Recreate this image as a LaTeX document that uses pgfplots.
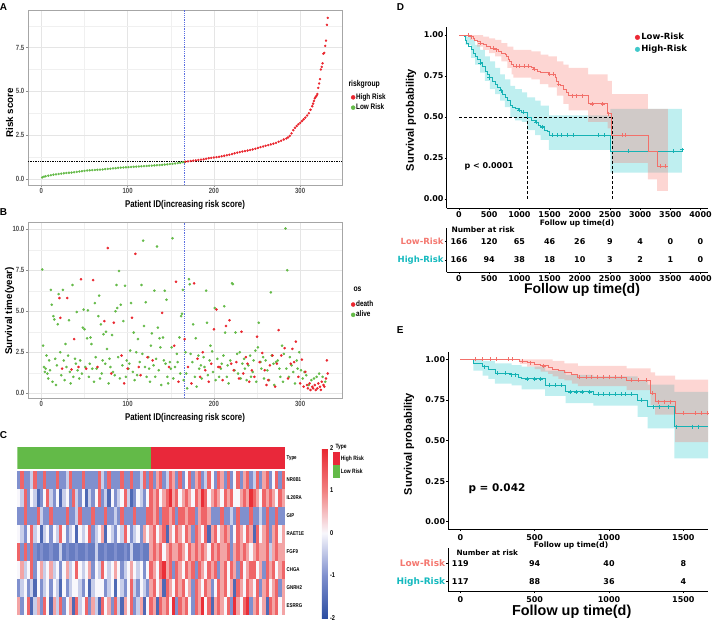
\documentclass[border=0pt]{standalone}
\usepackage{pgfplots}
\pgfplotsset{compat=1.18}
\usepackage{fontspec}
\setmainfont{Liberation Sans}
\newfontfamily\nar{Liberation Sans}[FakeStretch=0.8]
\newfontfamily\dv{DejaVu Sans}
\definecolor{rr}{RGB}{233,38,46}
\definecolor{gg}{RGB}{100,186,72}
\definecolor{vblue}{RGB}{90,110,225}
\definecolor{kmr}{RGB}{242,112,106}
\definecolor{kmc}{RGB}{22,178,180}
\definecolor{kmrf}{RGB}{248,118,109}
\definecolor{kmcf}{RGB}{0,191,196}
\definecolor{lowdot}{RGB}{236,40,52}
\definecolor{highdot}{RGB}{64,200,202}
\definecolor{lowlab}{RGB}{244,120,112}
\definecolor{highlab}{RGB}{20,185,190}
\definecolor{tred}{RGB}{233,40,58}
\definecolor{tgreen}{RGB}{99,186,72}
\pgfdeclareplotmark{cell}{\pgfpathrectangle{\pgfpoint{-1.75pt}{-9.1pt}}{\pgfpoint{3.5pt}{18.2pt}}\pgfusepathqfill}
\pgfplotsset{
  ggaxis/.style={scale only axis, axis line style={black!35}, tick style={black!45,line width=0.4pt},
    tick align=outside, major tick length=2pt, minor tick length=0pt, tick pos=left,
    grid=both, major grid style={black!10,line width=0.5pt}, minor grid style={black!6,line width=0.3pt},
    ticklabel style={font=\nar\bfseries\fontsize{7.5}{8}\selectfont, text=black!70, inner sep=1.5pt},
    /pgf/number format/assume math mode=true,
    xmin=-15.5, xmax=348.5, xtick={0,100,200,300}, minor xtick={50,150,250},
    legend style={draw=none, fill=none, font=\nar\bfseries\fontsize{8}{9}\selectfont, anchor=north west, row sep=1pt, nodes={inner sep=1pt}},
    legend image code/.code={\draw[#1] plot coordinates {(2pt,0pt)};},
    legend cell align=left},
  kmaxis/.style={scale only axis, axis x line*=bottom, axis y line*=left,
    axis line style={black, line width=0.6pt,-}, tick style={black,line width=0.6pt},
    tick align=outside, major tick length=2pt, minor tick length=0pt,
    ticklabel style={font=\dv\bfseries\fontsize{8}{9}\selectfont, inner sep=1pt},
    /pgf/number format/assume math mode=true, /pgf/number format/set thousands separator={}, scaled ticks=false},
  hm/.style={scatter, only marks, mark=cell, point meta=explicit, scatter/use mapped color={fill=mapped color, draw=none}},
  tab/.style={only marks, mark=none, nodes near coords, point meta=explicit symbolic,
    nodes near coords style={anchor=center, font=\dv\bfseries\fontsize{8}{9}\selectfont}},
}
\begin{document}
\begin{tikzpicture}
\path[use as bounding box] (0,0) rectangle (712pt,-623pt);
% ---------------- A ----------------
\begin{axis}[ggaxis, at={(28pt,-185pt)}, anchor=south west, width=314pt, height=175pt,
  ymin=-0.35, ymax=9.65, ytick={0,2.5,5,7.5}, yticklabels={0.0,2.5,5.0,7.5}, minor ytick={1.25,3.75,6.25,8.75},
  legend style={at={(1.019,0.54)}}]
\addlegendimage{only marks, mark=*, mark size=2pt, color=rr}\addlegendentry{High Risk}
\addlegendimage{only marks, mark=*, mark size=2pt, color=gg}\addlegendentry{Low Risk}
\addplot[forget plot, densely dotted, black, line width=0.7pt] coordinates {(-15.5,0.98) (348.5,0.98)};
\addplot[forget plot, densely dotted, vblue, line width=0.8pt] coordinates {(166,-0.35) (166,9.65)};
\addplot[forget plot, only marks, mark=*, mark size=1pt, color=gg] coordinates {
(1,0.08) (3,0.13) (5,0.15) (8,0.18) (11,0.21) (14,0.24) (17,0.26) (20,0.28) (23,0.30) (26,0.32) (29,0.34) (32,0.35) (35,0.36) (38,0.38) (41,0.40) (44,0.42) (47,0.44) (50,0.46) (53,0.48) (56,0.49) (59,0.50) (62,0.51) (65,0.52) (68,0.53) (71,0.54) (74,0.56) (77,0.57) (80,0.58) (83,0.60) (86,0.61) (89,0.63) (92,0.64) (95,0.65) (98,0.66) (101,0.67) (104,0.68) (107,0.69) (110,0.70) (113,0.71) (116,0.72) (119,0.73) (122,0.74) (125,0.75) (128,0.76) (131,0.77) (134,0.78) (137,0.79) (140,0.80) (143,0.82) (146,0.83) (149,0.85) (152,0.86) (155,0.88) (158,0.90) (161,0.92) (164,0.95) (166,0.97)};
\addplot[forget plot, only marks, mark=*, mark size=1pt, color=rr] coordinates {
(167,0.98) (170,1.0) (173,1.02) (176,1.04) (179,1.06) (182,1.08) (185,1.10) (188,1.12) (191,1.15) (194,1.18) (197,1.20) (200,1.22) (203,1.24) (206,1.26) (209,1.29) (212,1.32) (215,1.35) (218,1.38) (221,1.42) (224,1.46) (227,1.50) (230,1.53) (233,1.56) (236,1.59) (239,1.62) (242,1.65) (245,1.68) (248,1.72) (251,1.77) (254,1.81) (257,1.85) (260,1.89) (263,1.93) (266,1.97) (269,2.01) (272,2.06) (275,2.12) (278,2.18) (281,2.25) (284,2.31) (286,2.37) (288,2.46) (290,2.60) (292,2.78) (294,2.92) (296,3.02) (298,3.12) (300,3.20) (302,3.30) (304,3.40) (306,3.50) (308,3.62) (310,3.75) (312,3.95) (314,4.15) (315,4.3) (316,4.45) (317,4.6) (318,4.68) (319,4.75) (320,4.85) (321,5.2) (322,5.45) (323,5.7) (324,6.25) (325,6.4) (326,6.6) (327,7.15) (328,7.2) (329,7.6) (330,7.9) (331,8.8) (332,9.2)};
\end{axis}
\node[font=\bfseries\fontsize{10}{12}\selectfont] at (3.5pt,-7pt) {A};
\node[anchor=west, font=\nar\bfseries\fontsize{8.5}{9}\selectfont] at (345pt,-84pt) {riskgroup};
\node[rotate=90, font=\bfseries\fontsize{9.8}{11}\selectfont] at (9.7pt,-113pt) {Risk score};
\node[font=\nar\bfseries\fontsize{9.8}{11}\selectfont] at (185pt,-205pt) {Patient ID(increasing risk score)};
% ---------------- B ----------------
\begin{axis}[ggaxis, at={(28pt,-398pt)}, anchor=south west, width=314pt, height=176pt,
  ymin=-0.29, ymax=10.44, ytick={0,2.5,5,7.5,10}, yticklabels={0.0,2.5,5.0,7.5,10.0}, minor ytick={1.25,3.75,6.25,8.75},
  legend style={at={(1.019,0.57)}}]
\addlegendimage{only marks, mark=*, mark size=2pt, color=rr}\addlegendentry{death}
\addlegendimage{only marks, mark=*, mark size=2pt, color=gg}\addlegendentry{alive}
\addplot[forget plot, densely dotted, vblue, line width=0.8pt] coordinates {(166,-0.29) (166,10.44)};
\addplot[forget plot, only marks, mark=*, mark size=1.1pt, color=gg] coordinates {
(1,7.55) (2,2.9) (3,1.6) (4,1.3) (5,1.5) (6,2.3) (7,1.2) (8,0.9) (9,2.0) (10,1.4) (11,6.3) (12,5.4) (13,0.7) (14,4.7) (15,4.5) (16,2.1) (17,0.5) (18,1.7) (19,4.2) (20,6.05) (22,2.5) (23,1.1) (25,6.3) (26,2.0) (27,0.8) (28,3.0) (29,1.6) (31,2.3) (32,4.45) (33,1.3) (34,0.6) (36,6.6) (37,1.0) (39,2.1) (40,1.8) (41,4.95) (42,1.4) (44,0.9) (45,2.0) (47,1.2) (48,4.0) (49,5.1) (50,3.9) (51,1.6) (53,3.35) (54,5.05) (55,1.0) (56,1.8) (57,3.4) (58,3.0) (59,1.5) (61,0.7) (62,5.5) (63,2.2) (64,1.5) (66,4.7) (67,5.95) (68,0.9) (69,4.2) (70,1.2) (71,2.0) (72,3.6) (74,1.8) (75,3.75) (76,2.7) (78,0.6) (79,2.1) (80,1.6) (82,3.55) (83,1.3) (85,1.1) (86,5.0) (87,6.6) (88,5.2) (89,2.2) (90,7.45) (91,0.9) (92,5.4) (94,1.7) (95,4.4) (97,6.55) (98,1.0) (99,2.0) (101,1.5) (102,1.8) (103,2.6) (104,5.5) (106,1.3) (107,3.7) (108,0.8) (110,2.5) (111,1.1) (112,3.3) (114,1.9) (116,6.6) (117,2.4) (118,9.3) (119,4.1) (120,1.6) (121,5.55) (122,1.0) (124,2.2) (125,1.5) (126,0.7) (127,2.9) (128,3.65) (130,1.7) (131,6.25) (132,1.0) (133,2.1) (134,8.95) (135,4.0) (136,1.4) (137,3.35) (138,2.8) (139,0.5) (141,3.4) (142,2.0) (143,6.25) (144,1.8) (145,5.7) (146,1.0) (147,0.6) (149,1.9) (150,1.5) (151,2.8) (152,9.45) (153,0.9) (155,1.6) (157,2.4) (158,1.9) (160,3.4) (161,1.2) (162,4.7) (163,4.85) (164,6.3) (165,0.8)
(167,2.5) (168,1.2) (169,0.3) (171,6.95) (172,6.65) (173,2.4) (175,1.9) (176,4.2) (178,1.0) (179,3.35) (180,0.4) (182,2.3) (183,1.5) (185,1.7) (186,0.9) (188,2.2) (189,1.6) (191,6.25) (192,4.3) (193,1.1) (195,2.0) (196,2.9) (198,2.55) (199,1.3) (201,5.2) (202,0.8) (204,2.1) (206,1.0) (208,1.5) (209,1.8) (211,2.3) (212,5.3) (213,3.7) (215,1.0) (216,1.7) (217,0.6) (219,2.0) (221,6.7) (222,6.65) (224,1.4) (225,3.7) (227,2.4) (228,1.2) (230,2.5) (231,0.9) (233,1.8) (235,2.1) (236,1.5) (238,0.8) (240,1.7) (242,2.3) (243,1.0) (245,1.3) (246,2.0) (248,2.6) (249,0.7) (251,2.8) (252,4.3) (254,1.9) (255,1.5) (257,2.2) (258,0.9) (260,2.0) (262,1.4) (264,0.8) (266,6.15) (267,2.3) (269,1.8) (270,0.5) (272,1.9) (274,2.0) (276,1.5) (277,1.0) (279,2.9) (280,0.7) (281,2.4) (283,10.05) (284,1.5) (285,7.5) (287,1.0) (288,2.2) (290,1.7) (292,1.3) (294,0.6) (296,2.0) (297,1.5) (299,2.5) (301,1.4) (303,0.9) (305,1.3) (307,1.1) (310,0.5) (313,0.8) (316,0.9) (319,1.0) (322,1.2) (326,1.0) (329,0.7)};
\addplot[forget plot, only marks, mark=*, mark size=1.1pt, color=rr] coordinates {
(21,5.8) (22,4.6) (24,1.5) (30,5.8) (35,1.45) (38,3.3) (43,1.6) (46,6.95) (52,1.5) (60,6.9) (65,1.6) (73,4.4) (77,8.85) (81,1.2) (84,4.3) (93,2.3) (96,0.6) (100,1.5) (105,4.6) (109,8.5) (113,1.6) (115,1.1) (123,2.2) (129,2.0) (140,4.9) (148,1.6) (154,2.9) (156,6.8) (159,0.7) (166,3.3)
(170,1.6) (174,0.6) (177,6.7) (181,2.1) (184,1.0) (187,2.5) (190,1.4) (194,0.7) (197,1.8) (200,3.9) (203,5.1) (205,1.6) (207,1.6) (210,0.8) (214,4.1) (218,4.45) (220,1.8) (223,1.4) (226,1.9) (229,0.9) (232,3.75) (234,1.2) (237,2.2) (239,1.8) (241,0.7) (244,1.4) (247,1.0) (250,3.45) (253,1.9) (256,2.45) (259,1.4) (261,0.5) (263,0.8) (265,1.7) (268,2.3) (271,0.4) (273,1.8) (275,3.85) (278,2.3) (282,2.75) (286,0.9) (289,1.8) (291,2.7) (293,1.9) (295,3.15) (298,1.0) (300,0.6) (302,2.05) (304,0.4) (306,1.3) (308,0.5) (309,0.3) (311,0.6) (312,0.2) (314,0.4) (315,0.3) (317,0.5) (318,0.2) (320,0.3) (321,0.6) (323,0.4) (324,0.2) (325,0.7) (327,0.5) (328,0.4) (330,0.9) (331,2.0) (332,1.2)};
\end{axis}
\node[font=\bfseries\fontsize{10}{12}\selectfont] at (3.5pt,-212.5pt) {B};
\node[anchor=west, font=\nar\bfseries\fontsize{8.5}{9}\selectfont] at (350pt,-289pt) {os};
\node[rotate=90, font=\bfseries\fontsize{9.8}{11}\selectfont] at (9.7pt,-311pt) {Survival time(year)};
\node[font=\nar\bfseries\fontsize{9.8}{11}\selectfont] at (185pt,-418pt) {Patient ID(increasing risk score)};
% ---------------- C ----------------
\begin{axis}[scale only axis, at={(17.3pt,-615pt)}, anchor=south west, width=267.7pt, height=168.3pt,
  xmin=-0.5, xmax=82.5, ymin=-0.5, ymax=8.85, axis line style={draw=none}, xtick=\empty,
  ytick={0,1,2,3,4,5,6,7,8.22}, yticklabels={ESRRG,GNRH2,CHGA,FGF9,RAET1E,GIP,IL20RA,NR0B1,Type},
  yticklabel pos=right, major tick length=0pt, yticklabel style={font=\nar\bfseries\fontsize{5.5}{6}\selectfont, inner sep=1.5pt},
  colormap={heat}{rgb255(0cm)=(44,78,162); rgb255(1cm)=(128,144,206); rgb255(2cm)=(248,247,252); rgb255(3cm)=(241,128,128); rgb255(4cm)=(233,38,48)},
  point meta min=-2, point meta max=2,
  colorbar, colorbar style={at={(parent axis.north east)}, anchor=north west, xshift=28.3pt, yshift=-1.3pt,
    scale only axis, width=6pt, height=170pt, ytick={-2,-1,0,1,2}, axis line style={draw=none}, major tick length=0pt,
    yticklabel style={font=\nar\bfseries\fontsize{7}{8}\selectfont, inner sep=2pt}, /pgf/number format/assume math mode=true},
  legend style={at={(1.179,0.9685)}, anchor=north west, draw=none, fill=none, font=\nar\bfseries\fontsize{6.2}{7}\selectfont, row sep=0pt, inner sep=0pt, nodes={inner sep=0.8pt}},
  legend image code/.code={\fill[#1] (0pt,-6.5pt) rectangle (7pt,6.5pt);}, legend cell align=left]
\addlegendimage{fill=tred, draw=none}\addlegendentry{High Risk}
\addlegendimage{fill=tgreen, draw=none}\addlegendentry{Low Risk}
\addplot[forget plot, fill=tgreen, draw=none] coordinates {(-0.5,7.59) (41,7.59) (41,8.85) (-0.5,8.85)};
\addplot[forget plot, fill=tred, draw=none] coordinates {(41,7.59) (82.5,7.59) (82.5,8.85) (41,8.85)};
% NR0B1
\addplot[forget plot, hm] coordinates {
(0,7)[-1] (1,7)[1.3] (2,7)[-1] (3,7)[-1] (4,7)[-0.4] (5,7)[1.3] (6,7)[-1] (7,7)[-1] (8,7)[1.3] (9,7)[-1]
(10,7)[-1] (11,7)[-1] (12,7)[1.3] (13,7)[-1] (14,7)[-1] (15,7)[-0.4] (16,7)[1.3] (17,7)[-1] (18,7)[-1] (19,7)[-1]
(20,7)[1.3] (21,7)[-1] (22,7)[-1] (23,7)[-1] (24,7)[-1] (25,7)[1.3] (26,7)[-0.4] (27,7)[-1] (28,7)[1.3] (29,7)[-1]
(30,7)[-1] (31,7)[-1] (32,7)[1.3] (33,7)[-1] (34,7)[-1] (35,7)[1.3] (36,7)[-1] (37,7)[-1] (38,7)[-0.4] (39,7)[1.3]
(40,7)[-1] (41,7)[1.3] (42,7)[-1] (43,7)[0.7] (44,7)[1.3] (45,7)[-1] (46,7)[-0.4] (47,7)[1.3] (48,7)[0.7] (49,7)[-1]
(50,7)[1.3] (51,7)[-1] (52,7)[0] (53,7)[1.3] (54,7)[-1] (55,7)[0.7] (56,7)[1.3] (57,7)[-1] (58,7)[-0.4] (59,7)[1.3]
(60,7)[0] (61,7)[-1] (62,7)[1.3] (63,7)[0.7] (64,7)[-1] (65,7)[1.3] (66,7)[-1] (67,7)[0] (68,7)[1.3] (69,7)[-1]
(70,7)[0.7] (71,7)[1.3] (72,7)[-1] (73,7)[-0.4] (74,7)[1.3] (75,7)[-1] (76,7)[0.7] (77,7)[1.3] (78,7)[-1] (79,7)[0]
(80,7)[1.3] (81,7)[-1] (82,7)[1.3]};
% IL20RA
\addplot[forget plot, hm] coordinates {
(0,6)[0] (1,6)[-0.4] (2,6)[1.3] (3,6)[-1] (4,6)[0] (5,6)[-0.4] (6,6)[-1.6] (7,6)[-1] (8,6)[0] (9,6)[1.3]
(10,6)[-0.4] (11,6)[-1] (12,6)[0] (13,6)[-1.6] (14,6)[-0.4] (15,6)[0] (16,6)[-1] (17,6)[1.3] (18,6)[-0.4] (19,6)[-1]
(20,6)[0] (21,6)[-1.6] (22,6)[-0.4] (23,6)[-1] (24,6)[0] (25,6)[1.3] (26,6)[-1] (27,6)[-0.4] (28,6)[-1.6] (29,6)[0]
(30,6)[-1] (31,6)[-0.4] (32,6)[0] (33,6)[1.3] (34,6)[-0.4] (35,6)[-1.6] (36,6)[-1] (37,6)[0] (38,6)[-0.4] (39,6)[-1]
(40,6)[0] (41,6)[1.3] (42,6)[0.7] (43,6)[1.3] (44,6)[0] (45,6)[0.7] (46,6)[1.3] (47,6)[1.9] (48,6)[0.7] (49,6)[1.3]
(50,6)[0] (51,6)[0.7] (52,6)[1.3] (53,6)[0.7] (54,6)[0] (55,6)[1.3] (56,6)[0.7] (57,6)[1.9] (58,6)[1.3] (59,6)[0]
(60,6)[0.7] (61,6)[1.3] (62,6)[0.7] (63,6)[0] (64,6)[1.3] (65,6)[0.7] (66,6)[1.3] (67,6)[0] (68,6)[0] (69,6)[0.7]
(70,6)[1.3] (71,6)[0.7] (72,6)[1.9] (73,6)[1.3] (74,6)[0.7] (75,6)[0] (76,6)[1.3] (77,6)[0.7] (78,6)[1.3] (79,6)[0.7]
(80,6)[0] (81,6)[1.3] (82,6)[0.7]};
% GIP
\addplot[forget plot, hm] coordinates {
(0,5)[-1] (1,5)[-1] (2,5)[1.3] (3,5)[-1] (4,5)[-1] (5,5)[-1] (6,5)[1.3] (7,5)[-0.4] (8,5)[-1] (9,5)[-1]
(10,5)[1.3] (11,5)[-1] (12,5)[-1] (13,5)[-1] (14,5)[-1] (15,5)[1.3] (16,5)[-1] (17,5)[-1] (18,5)[-0.4] (19,5)[1.3]
(20,5)[-1] (21,5)[-1] (22,5)[-1] (23,5)[1.3] (24,5)[-1] (25,5)[-1] (26,5)[-1] (27,5)[1.3] (28,5)[-1] (29,5)[-1]
(30,5)[-0.4] (31,5)[-1] (32,5)[1.3] (33,5)[-1] (34,5)[-1] (35,5)[-1] (36,5)[1.3] (37,5)[-1] (38,5)[-1] (39,5)[-1]
(40,5)[1.3] (41,5)[1.3] (42,5)[0.7] (43,5)[1.3] (44,5)[-1] (45,5)[1.3] (46,5)[1.3] (47,5)[0.7] (48,5)[1.3] (49,5)[-1]
(50,5)[1.3] (51,5)[1.3] (52,5)[0.7] (53,5)[1.3] (54,5)[1.3] (55,5)[-1] (56,5)[0.7] (57,5)[1.3] (58,5)[1.3] (59,5)[0.7]
(60,5)[-1] (61,5)[-1] (62,5)[-1] (63,5)[1.3] (64,5)[-1] (65,5)[-1] (66,5)[-0.4] (67,5)[-1] (68,5)[1.3] (69,5)[-1]
(70,5)[-1] (71,5)[-1] (72,5)[1.3] (73,5)[-1] (74,5)[-1] (75,5)[-0.4] (76,5)[-1] (77,5)[1.3] (78,5)[-1] (79,5)[-1]
(80,5)[1.3] (81,5)[-1] (82,5)[-1]};
% RAET1E
\addplot[forget plot, hm] coordinates {
(0,4)[0] (1,4)[-0.4] (2,4)[-1] (3,4)[0] (4,4)[1.3] (5,4)[-0.4] (6,4)[0] (7,4)[-1.6] (8,4)[-0.4] (9,4)[0]
(10,4)[-1] (11,4)[0] (12,4)[-0.4] (13,4)[1.3] (14,4)[0] (15,4)[-1] (16,4)[-0.4] (17,4)[0] (18,4)[-1.6] (19,4)[0]
(20,4)[-0.4] (21,4)[0] (22,4)[1.3] (23,4)[-1] (24,4)[-0.4] (25,4)[0] (26,4)[0.7] (27,4)[-1.6] (28,4)[0] (29,4)[-0.4]
(30,4)[-1] (31,4)[0] (32,4)[-0.4] (33,4)[1.3] (34,4)[0] (35,4)[-1] (36,4)[-0.4] (37,4)[0] (38,4)[-1] (39,4)[0.7]
(40,4)[0] (41,4)[0.7] (42,4)[1.3] (43,4)[0] (44,4)[0.7] (45,4)[1.3] (46,4)[-1.6] (47,4)[0.7] (48,4)[0] (49,4)[1.3]
(50,4)[0.7] (51,4)[0] (52,4)[1.3] (53,4)[0.7] (54,4)[-1] (55,4)[1.3] (56,4)[0.7] (57,4)[0] (58,4)[1.3] (59,4)[-1.6]
(60,4)[0.7] (61,4)[1.3] (62,4)[0] (63,4)[0.7] (64,4)[1.3] (65,4)[0.7] (66,4)[-1] (67,4)[0] (68,4)[1.3] (69,4)[0.7]
(70,4)[0] (71,4)[1.3] (72,4)[0.7] (73,4)[-1.6] (74,4)[1.3] (75,4)[0] (76,4)[0.7] (77,4)[1.3] (78,4)[-1] (79,4)[0.7]
(80,4)[1.3] (81,4)[0] (82,4)[0.7]};
% FGF9
\addplot[forget plot, hm] coordinates {
(0,3)[1.3] (1,3)[-1] (2,3)[1.3] (3,3)[-1] (4,3)[1.3] (5,3)[-1] (6,3)[-1.3] (7,3)[-1] (8,3)[-1.3] (9,3)[-1.3]
(10,3)[-1] (11,3)[-1.3] (12,3)[-1.3] (13,3)[-0.4] (14,3)[-1.3] (15,3)[-1] (16,3)[-1.3] (17,3)[-1.3] (18,3)[-1] (19,3)[-1.3]
(20,3)[-1.3] (21,3)[-1] (22,3)[-1.3] (23,3)[-1.3] (24,3)[-0.4] (25,3)[-1.3] (26,3)[-1.3] (27,3)[-1] (28,3)[-1.3] (29,3)[-1.3]
(30,3)[-1] (31,3)[-1.3] (32,3)[-1.3] (33,3)[-1] (34,3)[-1.3] (35,3)[-0.4] (36,3)[-1.3] (37,3)[-1.3] (38,3)[-1] (39,3)[-1.3]
(40,3)[-1.3] (41,3)[0.7] (42,3)[1.3] (43,3)[0.7] (44,3)[1.3] (45,3)[0] (46,3)[0.7] (47,3)[1.3] (48,3)[0.7] (49,3)[0.7]
(50,3)[1.3] (51,3)[0.7] (52,3)[0] (53,3)[1.3] (54,3)[0.7] (55,3)[1.3] (56,3)[0.7] (57,3)[1.3] (58,3)[0.7] (59,3)[0]
(60,3)[1.3] (61,3)[0.7] (62,3)[1.3] (63,3)[0.7] (64,3)[0.7] (65,3)[1.3] (66,3)[-1] (67,3)[0.7] (68,3)[1.3] (69,3)[0.7]
(70,3)[1.3] (71,3)[0.7] (72,3)[0] (73,3)[0.7] (74,3)[1.3] (75,3)[0.7] (76,3)[0.7] (77,3)[1.3] (78,3)[-0.4] (79,3)[0.7]
(80,3)[1.3] (81,3)[0.7] (82,3)[0.7]};
% CHGA
\addplot[forget plot, hm] coordinates {
(0,2)[0] (1,2)[0.7] (2,2)[-0.4] (3,2)[0] (4,2)[1.3] (5,2)[-1] (6,2)[0] (7,2)[0.7] (8,2)[-0.4] (9,2)[0]
(10,2)[0.7] (11,2)[-0.4] (12,2)[0] (13,2)[-1] (14,2)[0] (15,2)[0.7] (16,2)[-0.4] (17,2)[0] (18,2)[1.3] (19,2)[0]
(20,2)[-0.4] (21,2)[0] (22,2)[0.7] (23,2)[-1] (24,2)[0] (25,2)[-0.4] (26,2)[1.3] (27,2)[0] (28,2)[-0.4] (29,2)[0]
(30,2)[0.7] (31,2)[0] (32,2)[-1] (33,2)[-0.4] (34,2)[0] (35,2)[0.7] (36,2)[0] (37,2)[-0.4] (38,2)[0] (39,2)[-1]
(40,2)[0] (41,2)[1.3] (42,2)[0.7] (43,2)[0] (44,2)[1.3] (45,2)[1.9] (46,2)[0.7] (47,2)[1.3] (48,2)[-1] (49,2)[1.3]
(50,2)[0.7] (51,2)[0] (52,2)[1.3] (53,2)[0.7] (54,2)[1.3] (55,2)[-1] (56,2)[1.3] (57,2)[0.7] (58,2)[0] (59,2)[1.3]
(60,2)[0.7] (61,2)[1.3] (62,2)[-1] (63,2)[0.7] (64,2)[1.3] (65,2)[0] (66,2)[1.3] (67,2)[0.7] (68,2)[-1] (69,2)[1.3]
(70,2)[0] (71,2)[0.7] (72,2)[1.3] (73,2)[1.3] (74,2)[0] (75,2)[0.7] (76,2)[-1] (77,2)[1.3] (78,2)[0.7] (79,2)[1.3]
(80,2)[0] (81,2)[0.7] (82,2)[1.3]};
% GNRH2
\addplot[forget plot, hm] coordinates {
(0,1)[-1] (1,1)[-0.4] (2,1)[0] (3,1)[-1] (4,1)[-0.4] (5,1)[-1.6] (6,1)[0] (7,1)[-1] (8,1)[-0.4] (9,1)[0]
(10,1)[-1] (11,1)[0] (12,1)[-0.4] (13,1)[-1.6] (14,1)[0] (15,1)[-1] (16,1)[-0.4] (17,1)[0] (18,1)[0] (19,1)[-0.4]
(20,1)[-1] (21,1)[0] (22,1)[-1.6] (23,1)[-0.4] (24,1)[0] (25,1)[0] (26,1)[0] (27,1)[-1] (28,1)[-0.4] (29,1)[0]
(30,1)[-1.6] (31,1)[0] (32,1)[-0.4] (33,1)[-1] (34,1)[0] (35,1)[1.3] (36,1)[-0.4] (37,1)[-1] (38,1)[0] (39,1)[-0.4]
(40,1)[-1] (41,1)[0.7] (42,1)[1.3] (43,1)[0] (44,1)[0.7] (45,1)[-1.6] (46,1)[1.3] (47,1)[0.7] (48,1)[0] (49,1)[1.3]
(50,1)[0.7] (51,1)[1.3] (52,1)[0] (53,1)[0.7] (54,1)[-1] (55,1)[1.3] (56,1)[0.7] (57,1)[0] (58,1)[1.3] (59,1)[0.7]
(60,1)[-1] (61,1)[0] (62,1)[1.3] (63,1)[0.7] (64,1)[1.3] (65,1)[0] (66,1)[0.7] (67,1)[-1.6] (68,1)[1.3] (69,1)[0.7]
(70,1)[0] (71,1)[1.3] (72,1)[0.7] (73,1)[0] (74,1)[1.3] (75,1)[-1] (76,1)[0.7] (77,1)[1.3] (78,1)[0] (79,1)[0.7]
(80,1)[1.3] (81,1)[-1] (82,1)[0.7]};
% ESRRG
\addplot[forget plot, hm] coordinates {
(0,0)[0.7] (1,0)[-1] (2,0)[0] (3,0)[1.3] (4,0)[-1.6] (5,0)[-0.4] (6,0)[0.7] (7,0)[-1] (8,0)[1.3] (9,0)[0]
(10,0)[-1.6] (11,0)[0.7] (12,0)[-0.4] (13,0)[1.3] (14,0)[-1] (15,0)[0] (16,0)[0.7] (17,0)[-1.6] (18,0)[1.3] (19,0)[-0.4]
(20,0)[0] (21,0)[1.3] (22,0)[-1] (23,0)[0.7] (24,0)[-0.4] (25,0)[-1.6] (26,0)[1.3] (27,0)[0] (28,0)[0.7] (29,0)[-1]
(30,0)[1.3] (31,0)[-0.4] (32,0)[-1.6] (33,0)[0.7] (34,0)[0] (35,0)[1.3] (36,0)[-1] (37,0)[-0.4] (38,0)[0.7] (39,0)[-1.6]
(40,0)[0] (41,0)[1.3] (42,0)[0.7] (43,0)[-1.6] (44,0)[1.3] (45,0)[0.7] (46,0)[1.3] (47,0)[0] (48,0)[1.9] (49,0)[-1]
(50,0)[1.3] (51,0)[0.7] (52,0)[1.3] (53,0)[0] (54,0)[-1] (55,0)[1.3] (56,0)[0.7] (57,0)[1.9] (58,0)[0] (59,0)[1.3]
(60,0)[-1.6] (61,0)[0.7] (62,0)[1.3] (63,0)[0.7] (64,0)[0] (65,0)[1.3] (66,0)[-1] (67,0)[1.9] (68,0)[0.7] (69,0)[0]
(70,0)[1.3] (71,0)[1.9] (72,0)[-1] (73,0)[0.7] (74,0)[1.3] (75,0)[0] (76,0)[0.7] (77,0)[-1.6] (78,0)[1.3] (79,0)[0.7]
(80,0)[1.3] (81,0)[0] (82,0)[0.7]};
\end{axis}
\node[font=\bfseries\fontsize{10}{12}\selectfont] at (3.5pt,-435pt) {C};
\node[anchor=west, font=\nar\bfseries\fontsize{6.2}{7}\selectfont] at (332pt,-447pt) {Type};
% ---------------- D ----------------
\begin{axis}[kmaxis, at={(446.7pt,-208.3pt)}, anchor=south west, width=261.3pt, height=181.3pt,
  xmin=-204, xmax=4124, ymin=-0.057, ymax=1.049, xtick={0,500,...,4000},
  ytick={0,0.25,0.5,0.75,1}, yticklabels={0.00,0.25,0.50,0.75,1.00},
  legend style={at={(0.709,0.985)}, anchor=north west, draw=none, fill=none, font=\dv\bfseries\fontsize{8.5}{9}\selectfont, row sep=1pt, nodes={inner sep=1.5pt}},
  legend image code/.code={\draw[#1] plot coordinates {(2pt,0pt)};}, legend cell align=left]
\addlegendimage{only marks, mark=*, mark size=2.3pt, color=lowdot}\addlegendentry{Low-Risk}
\addlegendimage{only marks, mark=*, mark size=2.3pt, color=highdot}\addlegendentry{High-Risk}
\addplot[forget plot, fill=kmcf, fill opacity=0.25, draw=none] coordinates {(0,1) (130,1) (130,0.99) (200,0.99) (200,0.97) (265,0.97) (265,0.94) (350,0.94) (350,0.91) (430,0.91) (430,0.87) (510,0.87) (510,0.84) (600,0.84) (600,0.80) (680,0.80) (680,0.76) (760,0.76) (760,0.73) (850,0.73) (850,0.69) (930,0.69) (930,0.67) (1040,0.67) (1040,0.65) (1130,0.65) (1130,0.62) (1260,0.62) (1260,0.60) (1350,0.60) (1350,0.57) (1490,0.57) (1490,0.51) (2505,0.51) (2505,0.55) (3690,0.55)
(3690,0.16) (2505,0.16) (2505,0.30) (1490,0.30) (1490,0.36) (1350,0.36) (1350,0.39) (1260,0.39) (1260,0.42) (1130,0.42) (1130,0.47) (1040,0.47) (1040,0.48) (930,0.48) (930,0.50) (850,0.50) (850,0.56) (760,0.56) (760,0.60) (680,0.60) (680,0.64) (600,0.64) (600,0.67) (510,0.67) (510,0.72) (430,0.72) (430,0.77) (350,0.77) (350,0.82) (265,0.82) (265,0.86) (200,0.86) (200,0.94) (110,0.94) (110,1) (0,1)};
\addplot[forget plot, fill=kmrf, fill opacity=0.3, draw=none] coordinates {(0,1) (400,1) (400,0.99) (500,0.99) (500,0.98) (600,0.98) (600,0.97) (700,0.97) (700,0.95) (800,0.95) (800,0.93) (900,0.93) (900,0.91) (1200,0.91) (1200,0.90) (1350,0.90) (1350,0.88) (1480,0.88) (1480,0.87) (1620,0.87) (1620,0.84) (1730,0.84) (1730,0.82) (1815,0.82) (1815,0.80) (2140,0.80) (2140,0.76) (2460,0.76) (2460,0.72) (2530,0.72) (2530,0.64) (3130,0.64) (3130,0.55) (3460,0.55)
(3460,0.05) (3280,0.05) (3280,0.12) (3130,0.12) (3130,0.22) (2530,0.22) (2530,0.43) (2460,0.43) (2460,0.47) (2140,0.47) (2140,0.54) (1815,0.54) (1815,0.58) (1730,0.58) (1730,0.63) (1620,0.63) (1620,0.68) (1480,0.68) (1480,0.70) (1340,0.70) (1340,0.73) (1200,0.73) (1200,0.74) (900,0.74) (900,0.76) (870,0.76) (870,0.80) (800,0.80) (800,0.84) (700,0.84) (700,0.87) (600,0.87) (600,0.89) (500,0.89) (500,0.91) (400,0.91) (400,0.93) (300,0.93) (300,0.97) (190,0.97) (190,1) (0,1)};
\addplot[forget plot, densely dashed, black, line width=0.5pt] coordinates {(0,0.5) (2530,0.5)};
\addplot[forget plot, densely dashed, black, line width=0.5pt] coordinates {(1133,0) (1133,0.5)};
\addplot[forget plot, densely dashed, black, line width=0.5pt] coordinates {(2530,0) (2530,0.5)};
\addplot[forget plot, const plot, kmc, line width=0.8pt] coordinates {(0,1) (90,0.99) (110,0.97) (130,0.95) (160,0.93) (200,0.91) (230,0.89) (265,0.87) (300,0.85) (350,0.83) (390,0.81) (430,0.78) (470,0.76) (510,0.74) (560,0.72) (600,0.70) (640,0.68) (680,0.66) (720,0.64) (760,0.62) (800,0.60) (850,0.57) (890,0.56) (930,0.55) (990,0.54) (1040,0.53) (1130,0.50) (1200,0.48) (1260,0.47) (1320,0.45) (1350,0.44) (1420,0.42) (1460,0.41) (1490,0.39) (2505,0.29) (3690,0.29)};
\addplot[forget plot, only marks, mark=+, mark size=2pt, kmc, line width=0.6pt] coordinates {(350,0.83) (500,0.74) (700,0.66) (1000,0.54) (1060,0.53) (1280,0.47) (1380,0.44) (1550,0.39) (1620,0.39) (1700,0.39) (1800,0.39) (1900,0.39) (2300,0.39) (2400,0.39) (2800,0.29) (3550,0.29) (3690,0.30)};
\addplot[forget plot, const plot, kmr, line width=0.8pt] coordinates {(0,1) (190,0.99) (230,0.98) (260,0.97) (300,0.96) (350,0.95) (400,0.94) (460,0.93) (520,0.92) (600,0.91) (660,0.90) (710,0.89) (760,0.88) (790,0.87) (820,0.85) (840,0.84) (870,0.82) (900,0.81) (1200,0.80) (1230,0.79) (1300,0.78) (1340,0.77) (1480,0.76) (1600,0.74) (1620,0.72) (1650,0.70) (1680,0.69) (1730,0.67) (1780,0.65) (1815,0.63) (2140,0.58) (2460,0.52) (2530,0.39) (3130,0.29) (3280,0.20) (3460,0.20)};
\addplot[forget plot, only marks, mark=+, mark size=2pt, kmr, line width=0.6pt] coordinates {(150,1) (200,0.99) (350,0.95) (560,0.92) (620,0.91) (950,0.81) (1000,0.81) (1080,0.81) (1150,0.81) (1250,0.79) (1500,0.76) (1560,0.76) (1650,0.70) (1870,0.63) (1950,0.63) (2050,0.63) (2200,0.58) (2380,0.58) (2480,0.52) (2700,0.39) (2750,0.39) (3330,0.20) (3420,0.20)};
\end{axis}
\node[font=\bfseries\fontsize{10}{12}\selectfont] at (400.5pt,-7pt) {D};
\node[rotate=90, font=\bfseries\fontsize{11}{13}\selectfont] at (411pt,-120pt) {Survival probability};
\node[anchor=west, font=\dv\bfseries\fontsize{8}{9}\selectfont] at (461pt,-166pt) {p < 0.0001};
\node[font=\dv\bfseries\fontsize{7.5}{8}\selectfont] at (577pt,-223pt) {Follow up time(d)};
\node[anchor=west, font=\dv\bfseries\fontsize{7.5}{8}\selectfont] at (448pt,-229.5pt) {Number at risk};
\begin{axis}[kmaxis, at={(446.7pt,-272.3pt)}, anchor=south west, width=261.3pt, height=44pt,
  xmin=-204, xmax=4124, ymin=0, ymax=3, xtick={0,500,...,4000}, ytick={0.84,2.09},
  yticklabels={\textcolor{highlab}{High-Risk},\textcolor{lowlab}{Low-Risk}},
  yticklabel style={font=\dv\bfseries\fontsize{8.5}{9}\selectfont, inner sep=1pt}]
\addplot[tab] coordinates {(0,2.09)[166] (500,2.09)[120] (1000,2.09)[65] (1500,2.09)[46] (2000,2.09)[26] (2500,2.09)[9] (3000,2.09)[4] (3500,2.09)[0] (4000,2.09)[0]};
\addplot[tab] coordinates {(0,0.84)[166] (500,0.84)[94] (1000,0.84)[38] (1500,0.84)[18] (2000,0.84)[10] (2500,0.84)[3] (3000,0.84)[2] (3500,0.84)[1] (4000,0.84)[0]};
\end{axis}
\node[font=\bfseries\fontsize{14}{16}\selectfont] at (582pt,-290pt) {Follow up time(d)};
% ---------------- E ----------------
\begin{axis}[kmaxis, at={(448.3pt,-529pt)}, anchor=south west, width=259.7pt, height=177.3pt,
  xmin=-81, xmax=1666, ymin=-0.045, ymax=1.047, xtick={0,500,1000,1500},
  ytick={0,0.25,0.5,0.75,1}, yticklabels={0.00,0.25,0.50,0.75,1.00}, xticklabel style={yshift=-2pt}]
\addplot[forget plot, fill=kmcf, fill opacity=0.25, draw=none] coordinates {(0,1) (150,1) (150,0.99) (233,0.99) (233,0.975) (345,0.975) (345,0.965) (413,0.965) (413,0.955) (570,0.955) (570,0.93) (708,0.93) (708,0.905) (895,0.905) (895,0.895) (1193,0.895) (1193,0.87) (1260,0.87) (1260,0.845) (1440,0.845) (1440,0.80) (1666,0.80)
(1666,0.39) (1440,0.39) (1440,0.575) (1260,0.575) (1260,0.645) (1193,0.645) (1193,0.715) (895,0.715) (895,0.73) (708,0.73) (708,0.775) (570,0.775) (570,0.815) (413,0.815) (413,0.84) (345,0.84) (345,0.85) (233,0.85) (233,0.88) (188,0.88) (188,0.90) (150,0.90) (150,0.93) (88,0.93) (88,1) (0,1)};
\addplot[forget plot, fill=kmrf, fill opacity=0.3, draw=none] coordinates {(0,1) (620,1) (620,0.99) (700,0.99) (700,0.975) (790,0.975) (790,0.96) (1118,0.96) (1118,0.945) (1280,0.945) (1280,0.92) (1310,0.92) (1310,0.90) (1444,0.90) (1444,0.875) (1666,0.875)
(1666,0.49) (1444,0.49) (1444,0.66) (1310,0.66) (1310,0.72) (1280,0.72) (1280,0.81) (1118,0.81) (1118,0.835) (790,0.835) (790,0.85) (750,0.85) (750,0.87) (700,0.87) (700,0.88) (660,0.88) (660,0.895) (620,0.895) (620,0.91) (590,0.91) (590,0.925) (540,0.925) (540,0.94) (500,0.94) (500,0.955) (450,0.955) (450,0.97) (400,0.97) (400,1) (0,1)};
\addplot[forget plot, const plot, kmc, line width=0.8pt] coordinates {(0,1) (88,0.975) (150,0.955) (188,0.935) (233,0.914) (345,0.905) (390,0.89) (413,0.88) (570,0.84) (708,0.80) (895,0.785) (1193,0.75) (1260,0.708) (1440,0.585) (1666,0.585)};
\addplot[forget plot, only marks, mark=+, mark size=2pt, kmc, line width=0.6pt] coordinates {(160,0.955) (250,0.914) (300,0.914) (340,0.905) (370,0.905) (450,0.88) (500,0.88) (540,0.88) (600,0.84) (640,0.84) (680,0.84) (740,0.80) (780,0.80) (820,0.80) (870,0.80) (930,0.785) (960,0.785) (1000,0.785) (1040,0.785) (1080,0.785) (1110,0.785) (1150,0.785) (1220,0.75) (1300,0.708) (1340,0.708) (1400,0.708) (1450,0.585) (1560,0.585) (1600,0.585)};
\addplot[forget plot, const plot, kmr, line width=0.8pt] coordinates {(0,1) (400,0.99) (450,0.98) (500,0.97) (540,0.96) (590,0.95) (620,0.94) (660,0.93) (700,0.92) (750,0.905) (790,0.89) (1118,0.87) (1280,0.79) (1310,0.74) (1444,0.667) (1666,0.667)};
\addplot[forget plot, only marks, mark=+, mark size=2pt, kmr, line width=0.6pt] coordinates {(100,1.0) (150,1.0) (200,1.0) (240,1.0) (320,1.0) (350,1.0) (420,0.99) (470,0.98) (560,0.96) (800,0.89) (850,0.89) (880,0.89) (920,0.89) (960,0.89) (1000,0.89) (1040,0.89) (1080,0.89) (1150,0.87) (1200,0.87) (1250,0.87) (1290,0.79) (1330,0.74) (1370,0.74) (1410,0.74) (1500,0.667) (1580,0.667) (1620,0.667) (1660,0.667)};
\end{axis}
\node[font=\bfseries\fontsize{10}{12}\selectfont] at (400.3pt,-330pt) {E};
\node[rotate=90, font=\bfseries\fontsize{11}{13}\selectfont] at (409pt,-444pt) {Survival probability};
\node[anchor=west, font=\dv\bfseries\fontsize{10.5}{12}\selectfont] at (465pt,-488.3pt) {p = 0.042};
\node[font=\dv\bfseries\fontsize{7.5}{8}\selectfont] at (571pt,-545pt) {Follow up time(d)};
\node[anchor=west, font=\dv\bfseries\fontsize{7.3}{8}\selectfont] at (453pt,-552.7pt) {Number at risk};
\begin{axis}[kmaxis, at={(448.3pt,-591pt)}, anchor=south west, width=259.7pt, height=43pt,
  xmin=-81, xmax=1666, ymin=0, ymax=3, xtick={0,500,1000,1500}, ytick={0.65,1.93},
  yticklabels={\textcolor{highlab}{High-Risk},\textcolor{lowlab}{Low-Risk}},
  yticklabel style={font=\dv\bfseries\fontsize{9}{10}\selectfont, inner sep=1pt}, xticklabel style={yshift=-2pt}]
\addplot[tab] coordinates {(0,1.93)[119] (500,1.93)[94] (1000,1.93)[40] (1500,1.93)[8]};
\addplot[tab] coordinates {(0,0.65)[117] (500,0.65)[88] (1000,0.65)[36] (1500,0.65)[4]};
\end{axis}
\node[font=\bfseries\fontsize{14.4}{16}\selectfont] at (571.7pt,-611.7pt) {Follow up time(d)};
\end{tikzpicture}
\end{document}
